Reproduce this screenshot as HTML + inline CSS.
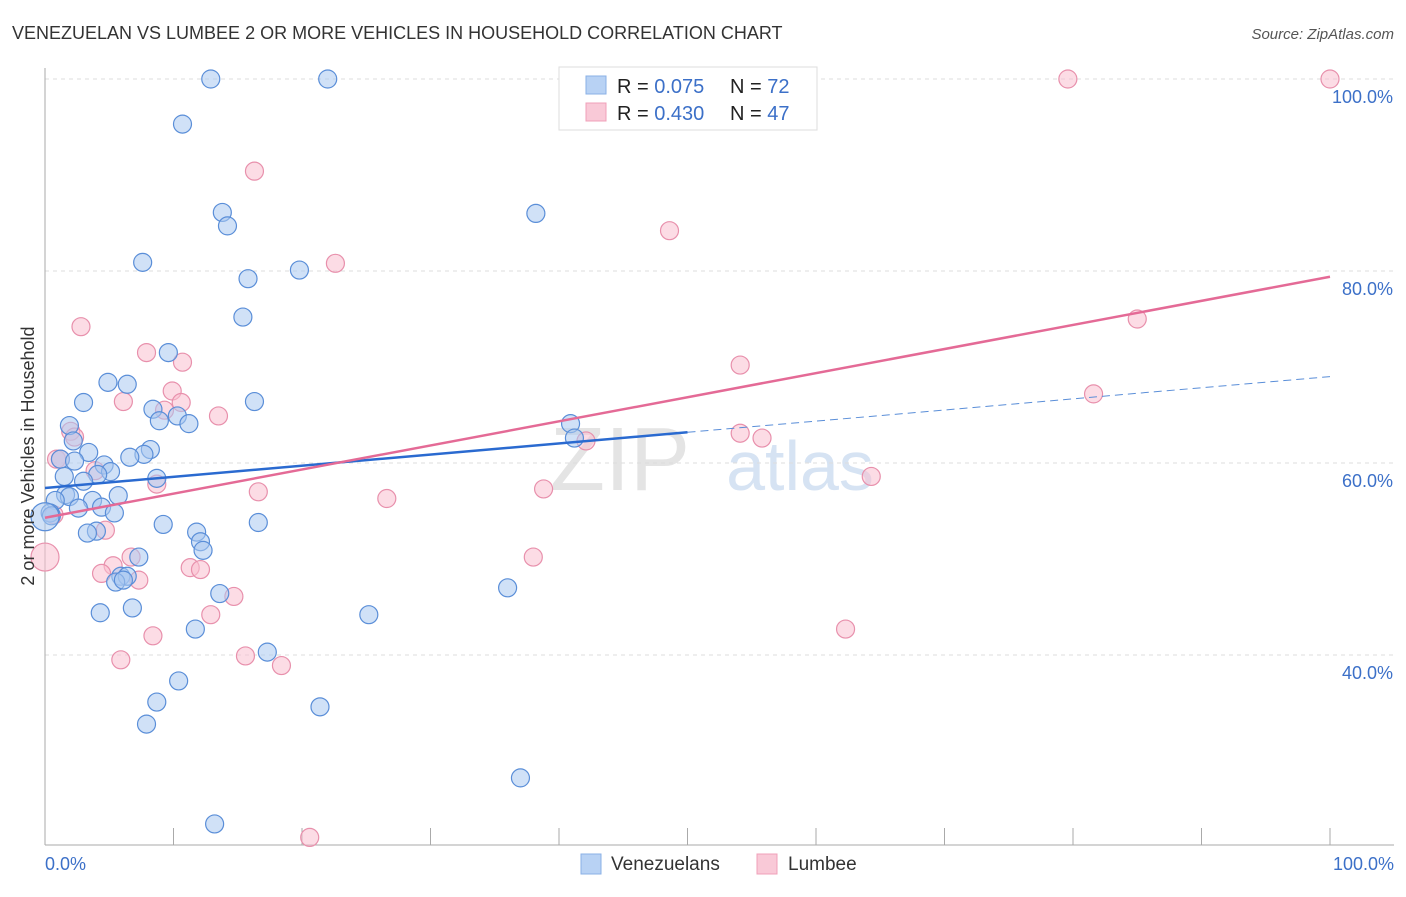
<!DOCTYPE html>
<html><head><meta charset="utf-8"><style>
body{margin:0;background:#fff;font-family:"Liberation Sans",sans-serif;}
svg text{font-family:"Liberation Sans",sans-serif;}
</style></head><body>
<svg id="chart" width="1406" height="892" viewBox="0 0 1406 892">
<text x="12" y="39" font-size="18" fill="#333">VENEZUELAN VS LUMBEE 2 OR MORE VEHICLES IN HOUSEHOLD CORRELATION CHART</text>
<text x="1394" y="39" font-size="15" fill="#555" font-style="italic" text-anchor="end">Source: ZipAtlas.com</text>
<text x="620" y="490" font-size="90" fill="#e4e4e4" font-family="Liberation Serif" text-anchor="middle">ZIP</text>
<text x="800" y="490" font-size="70" fill="#d6e3f3" text-anchor="middle">atlas</text>
<g id="grid"></g><g id="axes"></g><g id="pts"></g><g id="trends"></g>
<text x="34" y="456" font-size="18" fill="#333" text-anchor="middle" transform="rotate(-90 34 456)">2 or more Vehicles in Household</text>
<g>
<rect x="559" y="67" width="258" height="63" fill="#fff" stroke="#ddd"/>
<rect x="586" y="76" width="20" height="18" fill="#b8d2f4" stroke="#8ab0e6"/>
<rect x="586" y="103" width="20" height="18" fill="#f9c9d7" stroke="#f0a0b8"/>
<text x="617" y="93" font-size="20" fill="#222">R = <tspan fill="#3c70c8">0.075</tspan></text>
<text x="730" y="93" font-size="20" fill="#222">N = <tspan fill="#3c70c8">72</tspan></text>
<text x="617" y="120" font-size="20" fill="#222">R = <tspan fill="#3c70c8">0.430</tspan></text>
<text x="730" y="120" font-size="20" fill="#222">N = <tspan fill="#3c70c8">47</tspan></text>
</g>
<g>
<rect x="581" y="854" width="20" height="20" fill="#b8d2f4" stroke="#8ab0e6"/>
<text x="611" y="870" font-size="19" fill="#333">Venezuelans</text>
<rect x="757" y="854" width="20" height="20" fill="#f9c9d7" stroke="#f0a0b8"/>
<text x="788" y="870" font-size="19" fill="#333">Lumbee</text>
</g>
</svg>
<script>
const blueX=[12.9,22.0,10.7,13.8,14.2,38.2,7.6,19.8,15.8,15.4,9.6,4.9,6.4,3.0,16.3,8.4,10.3,8.9,11.2,1.9,2.2,3.4,8.2,7.7,6.6,1.2,2.3,4.6,5.1,4.1,8.7,1.5,3.0,1.6,1.9,5.7,3.7,4.4,2.6,5.4,0.8,0.4,0.5,9.2,16.6,4.0,3.3,11.8,12.1,12.3,7.3,5.9,6.4,5.5,6.1,13.6,6.8,4.3,25.2,36.0,11.7,17.3,10.4,8.7,21.4,7.9,37.0,13.2,40.9,41.2,0];
const blueY=[100,100,95.3,86.1,84.7,86.0,80.9,80.1,79.2,75.2,71.5,68.4,68.2,66.3,66.4,65.6,64.9,64.4,64.1,63.9,62.3,61.1,61.4,60.9,60.6,60.4,60.2,59.8,59.1,58.8,58.4,58.6,58.1,56.7,56.5,56.6,56.1,55.4,55.3,54.8,56.1,54.8,54.5,53.6,53.8,52.9,52.7,52.8,51.8,50.9,50.2,48.2,48.2,47.6,47.8,46.4,44.9,44.4,44.2,47.0,42.7,40.3,37.3,35.1,34.6,32.8,27.2,22.4,64.1,62.6,54.4];
const pinkX=[79.6,100,16.3,48.6,22.6,2.8,7.9,10.7,54.1,85.0,9.9,6.1,10.6,9.3,13.5,2.0,2.3,0.9,1.2,3.9,8.7,16.6,26.6,38.8,54.1,55.8,42.1,64.3,81.6,4.7,6.7,38.0,0,5.3,4.4,11.3,12.1,7.3,14.7,12.9,8.4,15.6,18.4,5.9,62.3,20.6,0.7];
const pinkY=[100,100,90.4,84.2,80.8,74.2,71.5,70.5,70.2,75.0,67.5,66.4,66.3,65.5,64.9,63.3,62.7,60.4,60.4,59.2,57.8,57.0,56.3,57.3,63.1,62.6,62.3,58.6,67.2,53.0,50.2,50.2,50.2,49.3,48.5,49.1,48.9,47.8,46.1,44.2,42.0,39.9,38.9,39.5,42.7,21.0,54.6];
const blueTrend=[57.4,63.2,69.0];
const pinkTrend=[54.3,79.4];
const yTicks=[40,60,80,100];
const yTickLabels=["40.0%","60.0%","80.0%","100.0%"];
const xTicks=[0,10,20,30,40,50,60,70,80,90,100];
const NS="http://www.w3.org/2000/svg";
const X=v=>45+v*12.85, Y=v=>1039-v*9.6;
function mk(t,a,p){const e=document.createElementNS(NS,t);for(const k in a)e.setAttribute(k,a[k]);document.getElementById(p).appendChild(e);return e;}
yTicks.forEach((t,i)=>{
 const g=mk('line',{x1:45,x2:1394,y1:Y(t),y2:Y(t),stroke:'#ddd','stroke-dasharray':'4,4'},'grid');
 
 
 const l=mk('text',{x:1393,y:Y(t)+24,'font-size':18,fill:'#3c70c8','text-anchor':'end'},'axes');
 l.textContent=yTickLabels[i];
 
 
});
let ax=mk('line',{x1:45,x2:45,y1:68,y2:845,stroke:'#aaa'},'axes');


ax=mk('line',{x1:45,x2:1394,y1:845,y2:845,stroke:'#aaa'},'axes');


xTicks.forEach(t=>{const e=mk('line',{x1:X(t),x2:X(t),y1:828,y2:845,stroke:'#aaa'},'axes');
 
 });
let xl=mk('text',{x:45,y:870,'font-size':18,fill:'#3c70c8'},'axes');xl.textContent='0.0%';


xl=mk('text',{x:1394,y:870,'font-size':18,fill:'#3c70c8','text-anchor':'end'},'axes');xl.textContent='100.0%';


function pts(xs,ys,fill,stroke,name){xs.forEach((x,i)=>{const big=x===0;
 const c=mk('circle',{cx:X(x),cy:Y(ys[i]),r:big?14:9,fill:fill,'fill-opacity':0.55,stroke:stroke,'stroke-width':1.2},'pts');
 
 });}
pts(pinkX,pinkY,'#f9c0d0','#e890ac','point-lumbee');
pts(blueX,blueY,'#aac8f0','#5a8ed8','point-venezuelan');
let t=mk('line',{x1:X(0),y1:Y(blueTrend[0]),x2:X(50),y2:Y(blueTrend[1]),stroke:'#2a6ad0','stroke-width':2.5},'trends');


t=mk('line',{x1:X(50),y1:Y(blueTrend[1]),x2:X(100),y2:Y(blueTrend[2]),stroke:'#5a8ed8','stroke-width':1,'stroke-dasharray':'8,5'},'trends');


t=mk('line',{x1:X(0),y1:Y(pinkTrend[0]),x2:X(100),y2:Y(pinkTrend[1]),stroke:'#e46a96','stroke-width':2.5},'trends');


</script>
</body></html>
